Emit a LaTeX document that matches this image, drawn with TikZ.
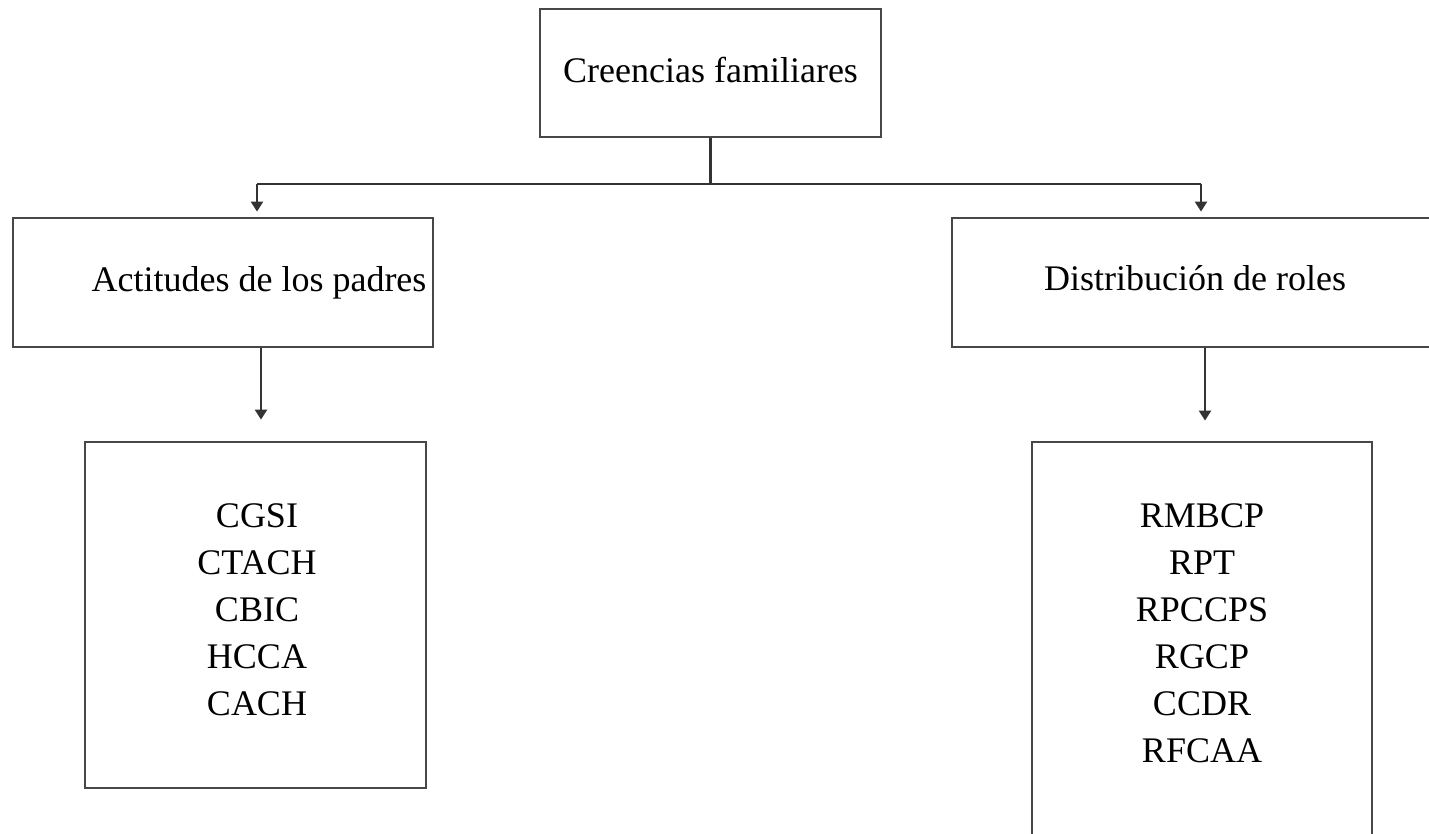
\documentclass[tikz,border=0pt]{standalone}
\usepackage{fontspec}
\setmainfont{Liberation Serif}
\usetikzlibrary{arrows.meta,calc}
\tikzset{
  box/.style={draw=black!72, line width=2.8pt, inner sep=0pt, fill=none},
  lbl/.style={inner sep=0pt, font=\fontsize{36}{47}\selectfont},
  lst/.style={inner sep=0pt, align=center, anchor=north, font=\fontsize{36}{47}\selectfont},
  conn/.style={draw=black!80, line width=2.3pt},
  arr/.style={conn, -{Triangle[length=10pt,width=12pt]}}
}
\begin{document}
\begin{tikzpicture}[x=1pt,y=-1pt]
\useasboundingbox (0,0) rectangle (1429,833);
\clip (0,0) rectangle (1429,833);
% boxes
\node[box, minimum width=341pt, minimum height=128pt] (top) at (710.5,73) {};
\node[box, minimum width=420pt, minimum height=129pt] (left) at (223,282.5) {};
\node[box, minimum width=493pt, minimum height=129pt] (right) at (1198.5,282.5) {};
\node[box, minimum width=341pt, minimum height=346pt] (bl) at (255.5,615) {};
\node[box, minimum width=340pt, minimum height=418pt] (br) at (1202,651) {};
% texts
\node[lbl, anchor=base] (ttop) at (710.5,82) {Creencias familiares};
\node[lbl, anchor=base] (tleft) at (259,291) {Actitudes de los padres};
\node[lbl, anchor=base] (tright) at (1195,290) {Distribución de roles};
\node[lst] (tbl) at (257,503) {CGSI\\CTACH\\CBIC\\HCCA\\CACH};
\node[lst] (tbr) at (1202,503) {RMBCP\\RPT\\RPCCPS\\RGCP\\CCDR\\RFCAA};
% connectors
\coordinate (jc) at (710.5,184);
\coordinate (jl) at (257,184);
\coordinate (jr) at (1201,184);
\draw[conn] (top.south) -- (jc);
\draw[conn] (jl) -- (jr);
\draw[arr, shorten >=5pt] (jl) -- (jl |- left.north);
\draw[arr, shorten >=5pt] (jr) -- (jr |- right.north);
\coordinate (dl) at (261,0);
\coordinate (dr) at (1205,0);
\draw[arr, shorten >=21pt] (dl |- left.south) -- (dl |- bl.north);
\draw[arr, shorten >=20pt] (dr |- right.south) -- (dr |- br.north);
\end{tikzpicture}
\end{document}
